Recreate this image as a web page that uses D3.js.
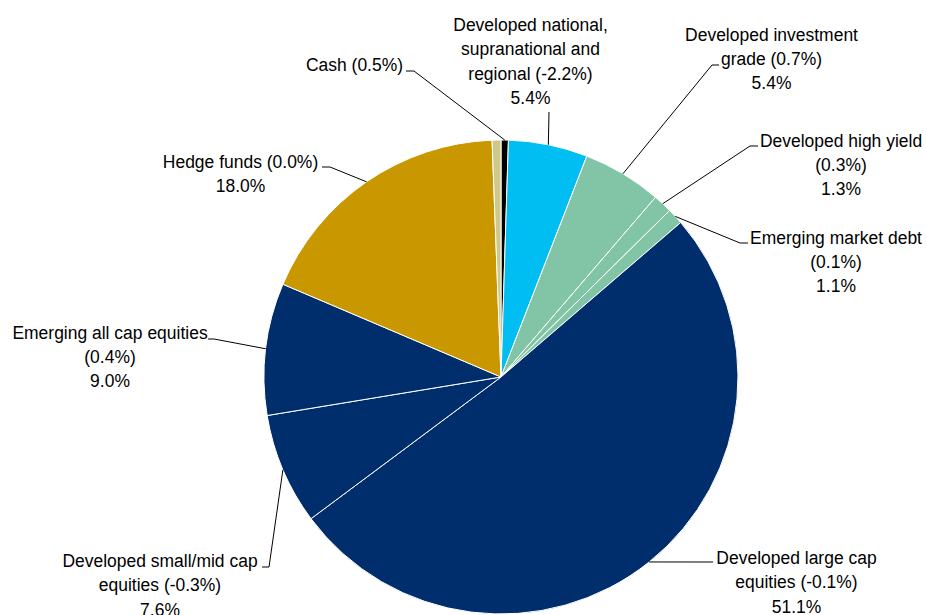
<!DOCTYPE html>
<html>
<head>
<meta charset="utf-8">
<script src="https://cdn.jsdelivr.net/npm/d3@7"></script>
<style>
  html, body { margin: 0; padding: 0; background: #fff; }
  svg { display: block; }
</style>
</head>
<body>
<svg id="chart" width="927" height="615"></svg>
<script>
// Asset classes, clockwise from 12 o'clock
const categories = [
  "Cash",
  "Developed national, supranational and regional",
  "Developed investment grade",
  "Developed high yield",
  "Emerging market debt",
  "Developed large cap equities",
  "Developed small/mid cap equities",
  "Emerging all cap equities",
  "Hedge funds",
  "Other"
];
// Portfolio weight (%)
const weights = [0.5, 5.4, 5.4, 1.3, 1.1, 51.1, 7.6, 9.0, 18.0, 0.6];
// Change in weight (percentage points), shown in brackets
const changes = [0.5, -2.2, 0.7, 0.3, 0.1, -0.1, -0.3, 0.4, 0.0, null];

// Slice fills
const fills = ["#000000", "#00BEF2", "#82C4A6", "#82C4A6", "#82C4A6",
               "#002E6D", "#002E6D", "#002E6D", "#C99700", "#CFC88B"];

// Label placement: centre x, first baseline, word breaks, leader elbow points
const labelLayout = [
  { cx: 354.5, y: 71,    breaks: [],     weightLine: false, path: [[406, 71], [414, 71]] },
  { cx: 530.5, y: 31,    breaks: [2, 4], weightLine: true,  path: [[549, 112]] },
  { cx: 771.5, y: 40.5,  breaks: [2],    weightLine: true,  path: [[719, 65], [712, 65]] },
  { cx: 841,   y: 146.5, breaks: [3],    weightLine: true,  path: [[758, 146], [750, 146]] },
  { cx: 836,   y: 243.5, breaks: [3],    weightLine: true,  path: [[748, 243], [740, 243]] },
  { cx: 796.5, y: 564,   breaks: [3],    weightLine: true,  path: [[713, 562]] },
  { cx: 160,   y: 567,   breaks: [3],    weightLine: true,  path: [[262, 567], [269, 567]] },
  { cx: 110,   y: 338.5, breaks: [4],    weightLine: true,  path: [[208, 339], [214, 339]] },
  { cx: 240.5, y: 167.5, breaks: [],     weightLine: true,  path: [[322, 167], [330, 167]] },
  null
];

const cx = 501, cy = 377, R = 237;
const lineH = 24.3;
const fontSize = 19;
const squeeze = 0.92;

const svg = d3.select("#chart");
const g = svg.append("g").attr("transform", `translate(${cx},${cy})`);

const data = categories.map((c, i) => ({ name: c, weight: weights[i], change: changes[i], i }));

const pie = d3.pie().sort(null).value(d => d.weight).startAngle(0).endAngle(2 * Math.PI);
const arcs = pie(data);
const arc = d3.arc().innerRadius(0).outerRadius(R);
const edge = d3.arc().innerRadius(R).outerRadius(R);

g.selectAll("path.slice")
  .data(arcs)
  .join("path")
  .attr("class", "slice")
  .attr("d", arc)
  .attr("fill", d => fills[d.data.i])
  .attr("stroke", "#ffffff")
  .attr("stroke-width", 1)
  .attr("stroke-linejoin", "round");

const pct = v => v.toFixed(1) + "%";

// Build label lines from name, change and weight
function labelLines(d, lay) {
  const words = (d.name + " (" + pct(d.change) + ")").split(" ");
  const lines = [];
  let start = 0;
  lay.breaks.concat([words.length]).forEach(b => {
    lines.push(words.slice(start, b).join(" "));
    start = b;
  });
  if (lay.weightLine) lines.push(pct(d.weight));
  return lines;
}

const line = d3.line();
const labels = svg.append("g");

arcs.forEach(a => {
  const lay = labelLayout[a.data.i];
  if (!lay) return;
  const [ex, ey] = edge.centroid(a);
  const pts = lay.path.concat([[cx + ex, cy + ey]]);
  labels.append("path")
    .attr("d", line(pts))
    .attr("fill", "none")
    .attr("stroke", "#000")
    .attr("stroke-width", 1);

  labelLines(a.data, lay).forEach((t, k) => {
    labels.append("text")
      .attr("transform", `translate(${lay.cx},${lay.y + k * lineH}) scale(${squeeze},1)`)
      .attr("text-anchor", "middle")
      .attr("font-family", "'Liberation Sans', Arial, sans-serif")
      .attr("font-size", fontSize)
      .attr("fill", "#000")
      .text(t);
  });
});
</script>
</body>
</html>
